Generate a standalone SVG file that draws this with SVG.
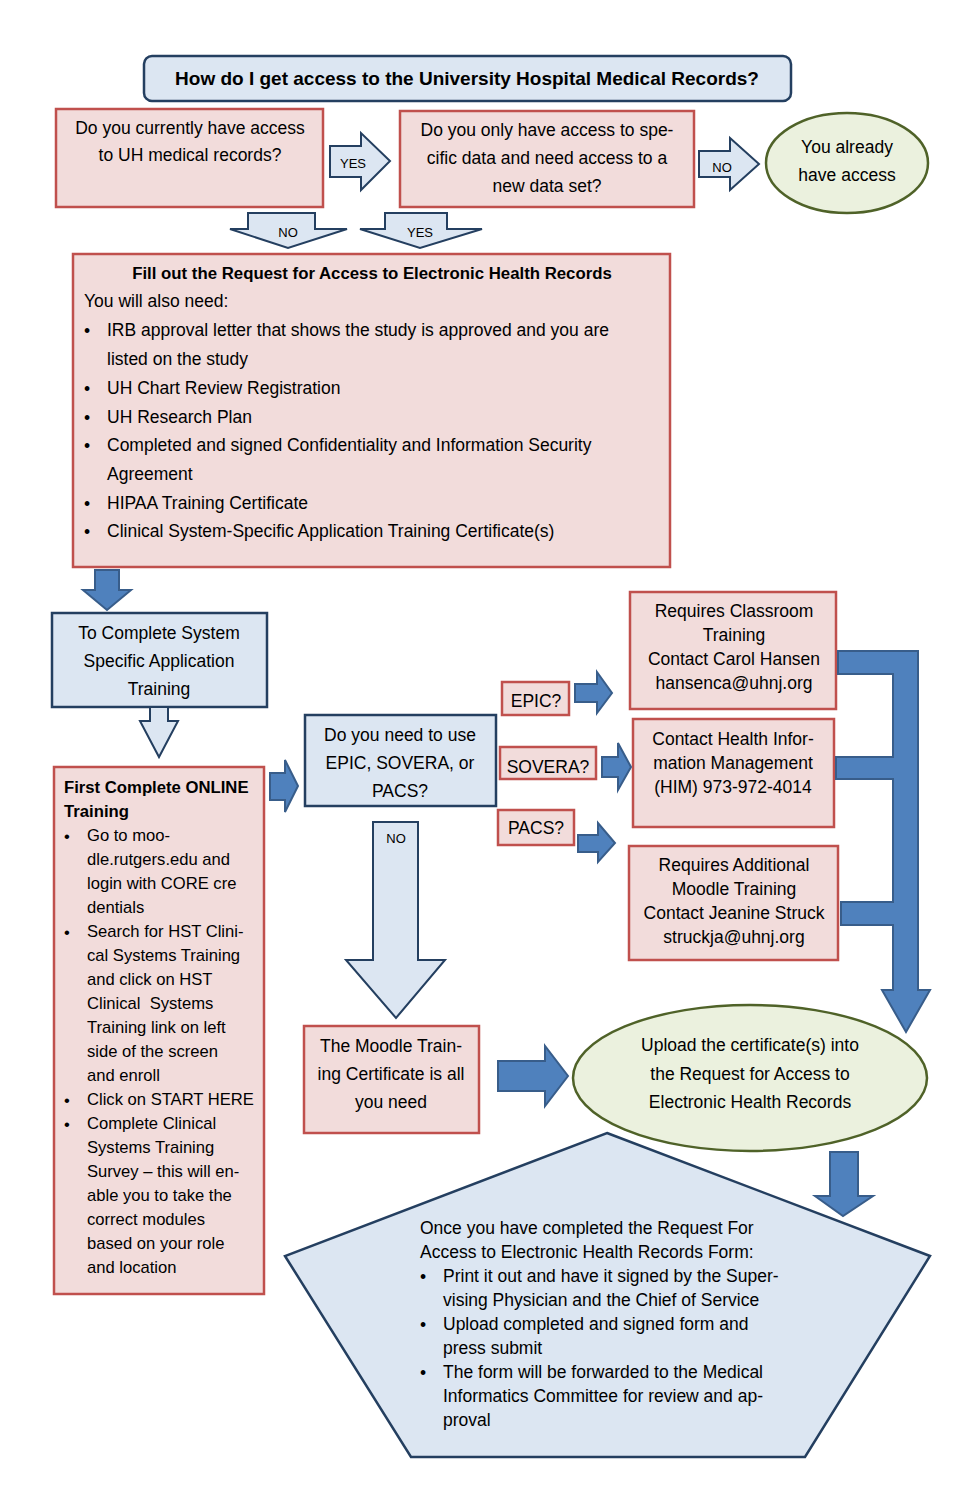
<svg xmlns="http://www.w3.org/2000/svg" width="977" height="1510" viewBox="0 0 977 1510">
<style>
text{font-family:"Liberation Sans",Arial,sans-serif;fill:#000;}
.pink{fill:#f2dcdb;stroke:#c0504d;stroke-width:2.5;}
.blue{fill:#dce6f2;stroke:#243f60;stroke-width:2.5;}
.green{fill:#ebf1de;stroke:#4f6228;stroke-width:2.5;}
.thick{fill:#4f81bd;stroke:#385d8a;stroke-width:2;}
.hollow{fill:#dce6f2;stroke:#243f60;stroke-width:2;}
.c{text-anchor:middle;}
.t16{font-size:17.5px;}
.t15{font-size:17.5px;}
.tl{font-size:16.6px;}
.lbl{font-size:13px;text-anchor:middle;}
</style>
<rect width="977" height="1510" fill="#ffffff"/>

<g id="title">
<rect x="144" y="56" width="647" height="45" rx="8" class="blue"/>
<text x="467" y="85" class="c" font-size="19" font-weight="bold">How do I get access to the University Hospital Medical Records?</text>
</g>

<g id="q-current-access">
<rect x="56" y="109" width="267" height="98" class="pink"/>
<text class="c t16" x="190" y="134">Do you currently have access</text>
<text class="c t16" x="190" y="161">to UH medical records?</text>
</g>

<g id="q-specific-data">
<rect x="400" y="111" width="294" height="96" class="pink"/>
<text class="c t16" x="547" y="136">Do you only have access to spe-</text>
<text class="c t16" x="547" y="164">cific data and need access to a</text>
<text class="c t16" x="547" y="192">new data set?</text>
</g>

<g id="already-access">
<ellipse cx="847" cy="163" rx="81" ry="50" class="green"/>
<text class="c t16" x="847" y="153">You already</text>
<text class="c t16" x="847" y="181">have access</text>
</g>

<g id="fill-request">
<rect x="73" y="254" width="597" height="313" class="pink"/>
<text class="c" x="372" y="279" font-size="16.8" font-weight="bold">Fill out the Request for Access to Electronic Health Records</text>
<text class="t16" x="84" y="307">You will also need:</text>
<g class="t16">
<text x="84" y="337">•</text><text x="107" y="336">IRB approval letter that shows the study is approved and you are</text>
<text x="107" y="365">listed on the study</text>
<text x="84" y="395">•</text><text x="107" y="394">UH Chart Review Registration</text>
<text x="84" y="424">•</text><text x="107" y="423">UH Research Plan</text>
<text x="84" y="452">•</text><text x="107" y="451">Completed and signed Confidentiality and Information Security</text>
<text x="107" y="480">Agreement</text>
<text x="84" y="510">•</text><text x="107" y="509">HIPAA Training Certificate</text>
<text x="84" y="538">•</text><text x="107" y="537">Clinical System-Specific Application Training Certificate(s)</text>
</g>
</g>

<g id="system-training">
<rect x="52" y="613" width="215" height="94" class="blue"/>
<text class="c t16" x="159" y="639">To Complete System</text>
<text class="c t16" x="159" y="667">Specific Application</text>
<text class="c t16" x="159" y="695">Training</text>
</g>

<g id="online-training">
<rect x="54" y="767" width="210" height="527" class="pink"/>
<g class="tl">
<text x="64" y="793" font-weight="bold" font-size="16.7">First Complete ONLINE</text>
<text x="64" y="817" font-weight="bold" font-size="16.7">Training</text>
<text x="64" y="842">•</text><text x="87" y="841">Go to moo-</text>
<text x="87" y="865">dle.rutgers.edu and</text>
<text x="87" y="889">login with CORE cre</text>
<text x="87" y="913">dentials</text>
<text x="64" y="938">•</text><text x="87" y="937">Search for HST Clini-</text>
<text x="87" y="961">cal Systems Training</text>
<text x="87" y="985">and click on HST</text>
<text x="87" y="1009" xml:space="preserve">Clinical  Systems</text>
<text x="87" y="1033">Training link on left</text>
<text x="87" y="1057">side of the screen</text>
<text x="87" y="1081">and enroll</text>
<text x="64" y="1106">•</text><text x="87" y="1105">Click on START HERE</text>
<text x="64" y="1130">•</text><text x="87" y="1129">Complete Clinical</text>
<text x="87" y="1153">Systems Training</text>
<text x="87" y="1177">Survey – this will en-</text>
<text x="87" y="1201">able you to take the</text>
<text x="87" y="1225">correct modules</text>
<text x="87" y="1249">based on your role</text>
<text x="87" y="1273">and location</text>
</g>
</g>

<g id="q-system">
<rect x="305" y="715" width="191" height="91" class="blue"/>
<text class="c t16" x="400" y="741">Do you need to use</text>
<text class="c t16" x="400" y="769">EPIC, SOVERA, or</text>
<text class="c t16" x="400" y="797">PACS?</text>
</g>

<g id="epic">
<rect x="502" y="682" width="67" height="33" class="pink"/>
<text class="c t16" x="536" y="707">EPIC?</text>
</g>
<g id="sovera">
<rect x="500" y="747" width="96" height="32" class="pink"/>
<text class="c t16" x="548" y="773">SOVERA?</text>
</g>
<g id="pacs">
<rect x="498" y="810" width="76" height="35" class="pink"/>
<text class="c t16" x="536" y="834">PACS?</text>
</g>

<g id="classroom">
<rect x="630" y="592" width="206" height="117" class="pink"/>
<text class="c t16" x="734" y="617">Requires Classroom</text>
<text class="c t16" x="734" y="641">Training</text>
<text class="c t16" x="734" y="665">Contact Carol Hansen</text>
<text class="c t16" x="734" y="689">hansenca@uhnj.org</text>
</g>
<g id="him">
<rect x="633" y="719" width="201" height="108" class="pink"/>
<text class="c t16" x="733" y="745">Contact Health Infor-</text>
<text class="c t16" x="733" y="769">mation Management</text>
<text class="c t16" x="733" y="793">(HIM) 973-972-4014</text>
</g>
<g id="moodle-additional">
<rect x="629" y="846" width="209" height="114" class="pink"/>
<text class="c t16" x="734" y="871">Requires Additional</text>
<text class="c t16" x="734" y="895">Moodle Training</text>
<text class="c t16" x="734" y="919">Contact Jeanine Struck</text>
<text class="c t16" x="734" y="943">struckja@uhnj.org</text>
</g>

<g id="moodle-cert">
<rect x="304" y="1026" width="175" height="107" class="pink"/>
<text class="c t16" x="391" y="1052">The Moodle Train-</text>
<text class="c t16" x="391" y="1080">ing Certificate is all</text>
<text class="c t16" x="391" y="1108">you need</text>
</g>

<g id="upload">
<ellipse cx="750" cy="1078" rx="177" ry="73" class="green"/>
<text class="c t16" x="750" y="1051" font-size="18">Upload the certificate(s) into</text>
<text class="c t16" x="750" y="1080" font-size="18">the Request for Access to</text>
<text class="c t16" x="750" y="1108" font-size="18">Electronic Health Records</text>
</g>

<g id="final-steps">
<polygon points="607,1133 930,1256 805,1457 411,1457 285,1256" class="blue"/>
<g class="t15">
<text x="420" y="1234">Once you have completed the Request For</text>
<text x="420" y="1258">Access to Electronic Health Records Form:</text>
<text x="420" y="1283">•</text><text x="443" y="1282">Print it out and have it signed by the Super-</text>
<text x="443" y="1306">vising Physician and the Chief of Service</text>
<text x="420" y="1331">•</text><text x="443" y="1330">Upload completed and signed form and</text>
<text x="443" y="1354">press submit</text>
<text x="420" y="1379">•</text><text x="443" y="1378">The form will be forwarded to the Medical</text>
<text x="443" y="1402">Informatics Committee for review and ap-</text>
<text x="443" y="1426">proval</text>
</g>
</g>

<g id="connectors">
<polygon class="hollow" points="330,146 361,146 361,133 390,161 361,190 361,177 330,177"/>
<text class="lbl" x="353" y="168">YES</text>
<polygon class="hollow" points="699,151 730,151 730,138 759,164 730,190 730,177 699,177"/>
<text class="lbl" x="722" y="172">NO</text>
<polygon class="hollow" points="248,213 315,213 315,229 347,229 288,248 230,229 248,229"/>
<text class="lbl" x="288" y="237">NO</text>
<polygon class="hollow" points="385,213 447,213 447,229 482,229 420,248 360,229 385,229"/>
<text class="lbl" x="420" y="237">YES</text>
<polygon class="thick" points="95,570 119,570 119,590 131,590 107,610 83,590 95,590"/>
<polygon class="hollow" points="150,707 168,707 168,721 178,721 159,757 140,721 150,721"/>
<polygon class="thick" points="270,773 285,773 285,760 298,786 285,812 285,800 270,800"/>
<polygon class="thick" points="575,684 597,684 597,672 612,693 597,713 597,702 575,702"/>
<polygon class="thick" points="602,757 618,757 618,743 631,767 618,790 618,777 602,777"/>
<polygon class="thick" points="578,835 598,835 598,823 615,843 598,862 598,852 578,852"/>
<polygon class="thick" points="838,651 918,651 918,990 930,990 906,1032 882,990 893,990 893,925 841,925 841,902 893,902 893,779 836,779 836,757 893,757 893,674 838,674"/>
<polygon class="hollow" points="373,822 418,822 418,960 445,960 396,1018 346,960 373,960"/>
<text class="lbl" x="396" y="843" font-size="14">NO</text>
<polygon class="thick" points="498,1061 545,1061 545,1046 568,1076 545,1106 545,1091 498,1091"/>
<polygon class="thick" points="830,1152 858,1152 858,1196 873,1196 843,1216 815,1196 830,1196"/>
</g>
</svg>
